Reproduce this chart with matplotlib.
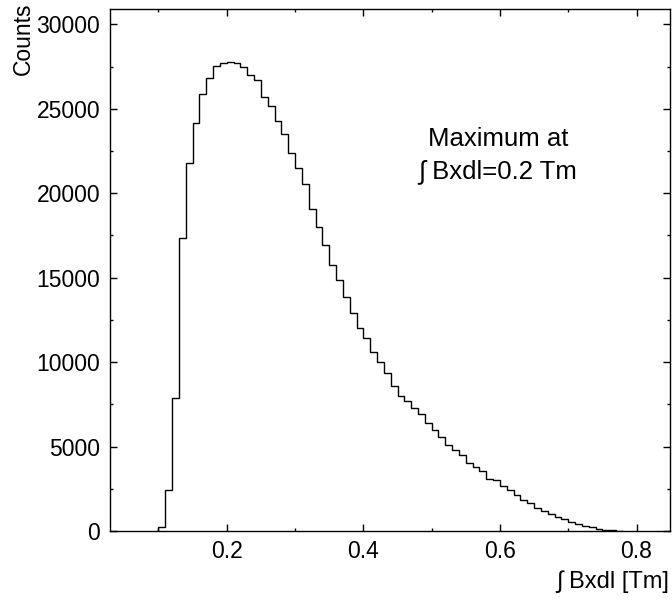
import numpy as np
import matplotlib
matplotlib.use("Agg")
import matplotlib.pyplot as plt
from matplotlib.ticker import MultipleLocator, FormatStrFormatter

plt.rcParams['font.family'] = ['Liberation Sans', 'DejaVu Sans']

# histogram: first bin low edge, bin width, counts per bin
bin_lo = 0.10
bin_width = 0.01
counts = [250, 2420, 7870, 17320, 21800, 24180, 25860, 26790, 27530, 27710,
          27790, 27690, 27450, 27000, 26700, 25700, 25150, 24300, 23520, 22370,
          21500, 20570, 19050, 17990, 16960, 15720, 14850, 13830, 12920, 11990,
          11400, 10570, 9980, 9350, 8600, 8010, 7690, 7260, 6900, 6370,
          5980, 5580, 5070, 4770, 4520, 4040, 3800, 3550, 3100, 3000,
          2660, 2430, 2110, 1850, 1640, 1340, 1180, 1010, 810, 690,
          550, 410, 320, 220, 140, 80, 40, 15]

x_title = "\u222b Bxdl [Tm]"
y_title = "Counts"
note_lines = ["Maximum at", "\u222b Bxdl=0.2 Tm"]

edges = bin_lo + bin_width * np.arange(len(counts) + 1)

fig = plt.figure(figsize=(6.72, 6.05), dpi=100)
ax = fig.add_axes([0.1637, 0.1223, 0.8333, 0.8627])

ax.stairs(counts, edges, baseline=0, fill=False, color='black', linewidth=1.0)

ax.set_xlim(0.029, 0.849)
ax.set_ylim(0, 30900)

ax.xaxis.set_major_locator(MultipleLocator(0.2))
ax.xaxis.set_minor_locator(MultipleLocator(0.1))
ax.yaxis.set_major_locator(MultipleLocator(5000))
ax.yaxis.set_minor_locator(MultipleLocator(2500))
ax.xaxis.set_major_formatter(FormatStrFormatter('%.1f'))

ax.tick_params(which='both', direction='in', top=True, right=True,
               labelsize=16.5, width=1.0)
ax.tick_params(which='major', length=5)
ax.tick_params(which='minor', length=2.5)
ax.tick_params(axis='x', pad=6.5)
ax.tick_params(axis='y', pad=7)
for s in ax.spines.values():
    s.set_linewidth(1.0)

fig.text(0.995, 0.028, x_title, ha='right', va='baseline', fontsize=17)
fig.text(0.035, 0.996, y_title, ha='center', va='top', rotation=90, fontsize=16.5)

ax.text(0.693, 0.7375, note_lines[0], transform=ax.transAxes, ha='center',
        va='baseline', fontsize=18.5)
ax.text(0.693, 0.676, note_lines[1], transform=ax.transAxes, ha='center',
        va='baseline', fontsize=18.5)

fig.savefig("out.png", dpi=100)
